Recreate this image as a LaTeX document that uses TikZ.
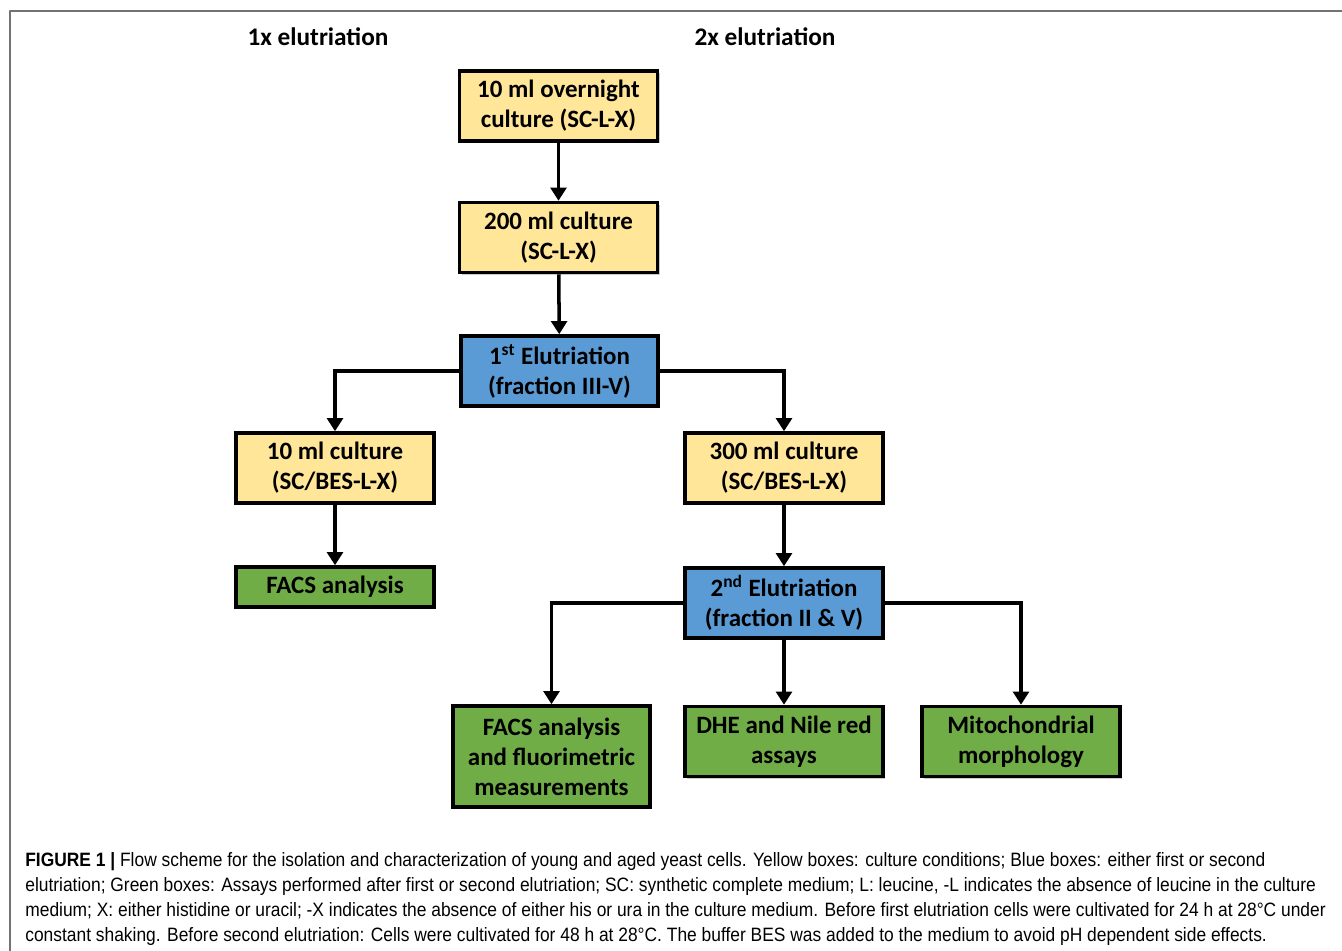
\documentclass[tikz,border=0pt]{standalone}
\usepackage{fontspec}
\setmainfont{Carlito}
\newfontfamily\capfont[FakeStretch=0.90]{Liberation Sans}
\usetikzlibrary{arrows.meta,shadows}
\definecolor{cultureyellow}{HTML}{FFE699}
\definecolor{elutblue}{HTML}{5B9BD5}
\definecolor{assaygreen}{HTML}{70AD47}

\begin{document}
\begin{tikzpicture}[line cap=round,line join=round,>={Triangle[length=7.5pt,width=9pt]},
  every node/.style={inner sep=1pt},
  flowbox/.style={draw=black,line width=2pt,line cap=butt,line join=miter,minimum width=3.96cm,minimum height=1.40cm,align=center,font=\fontsize{14.2}{17}\selectfont\bfseries,drop shadow={shadow xshift=1.2pt,shadow yshift=-1.2pt,opacity=0.35,fill=black!60}},
  culturebox/.style={flowbox,fill=cultureyellow},
  elutbox/.style={flowbox,fill=elutblue},
  assaybox/.style={flowbox,fill=assaygreen},
  flowarrow/.style={->,line width=2pt,line cap=butt,line join=miter},
  capline/.style={anchor=base west,inner sep=0pt,font=\capfont\fontsize{11}{13}\selectfont}]
  \useasboundingbox (0,0) rectangle (26.84,-19.02);
  \draw[line width=1pt,black!55] (0.2,-19.02) -- (0.2,-0.22) -- (26.84,-0.22);
  % column headers
  \node[font=\fontsize{14.4}{17}\selectfont\bfseries] (hdrone) at (6.36,-0.74) {1x elutriation};
  \node[font=\fontsize{14.4}{17}\selectfont\bfseries] (hdrtwo) at (15.30,-0.74) {2x elutriation};
  % boxes
  \node[culturebox] (overnight) at (11.17,-2.12) {10 ml overnight\\culture (SC-L-X)};
  \node[culturebox] (twohundred) at (11.17,-4.75) {200 ml culture\\(SC-L-X)};
  \node[elutbox,minimum width=3.94cm] (elutone) at (11.19,-7.42) {1\textsuperscript{st} Elutriation\\(fraction III-V)};
  \node[culturebox] (tenml) at (6.70,-9.36) {10 ml culture\\(SC/BES-L-X)};
  \node[culturebox] (threehundred) at (15.68,-9.36) {300 ml culture\\(SC/BES-L-X)};
  \node[assaybox,minimum height=0.80cm] (facsone) at (6.70,-11.74) {FACS analysis};
  \node[elutbox] (eluttwo) at (15.68,-12.06) {2\textsuperscript{nd} Elutriation\\(fraction II \& V)};
  \node[assaybox,minimum width=3.94cm,minimum height=2.02cm] (facstwo) at (11.03,-15.13) {FACS analysis\\and fluorimetric\\measurements};
  \node[assaybox] (dhe) at (15.68,-14.83) {DHE and Nile red\\assays};
  \node[assaybox] (mito) at (20.42,-14.83) {Mitochondrial\\morphology};
  % connectors
  \draw[flowarrow] (overnight) -- (twohundred);
  \draw[flowarrow] (twohundred) -- (elutone);
  \draw[flowarrow] (elutone.west) -| (tenml.north);
  \draw[flowarrow] (elutone.east) -| (threehundred.north);
  \draw[flowarrow] (tenml) -- (facsone);
  \draw[flowarrow] (threehundred) -- (eluttwo);
  \draw[flowarrow] (eluttwo.west) -| (facstwo.north);
  \draw[flowarrow] (eluttwo) -- (dhe);
  \draw[flowarrow] (eluttwo.east) -| (mito.north);
  % caption
  \node[capline] (capa) at (0.50,-17.32) {\textbf{FIGURE 1 |} Flow scheme for the isolation and characterization of young and aged yeast cells. Yellow boxes: culture conditions; Blue boxes: either first or second};
  \node[capline] (capb) at (0.50,-17.82) {elutriation; Green boxes: Assays performed after first or second elutriation; SC: synthetic complete medium; L: leucine, -L indicates the absence of leucine in the culture};
  \node[capline] (capc) at (0.50,-18.32) {medium; X: either histidine or uracil; -X indicates the absence of either his or ura in the culture medium. Before first elutriation cells were cultivated for 24 h at 28\textdegree C under};
  \node[capline] (capd) at (0.50,-18.82) {constant shaking. Before second elutriation: Cells were cultivated for 48 h at 28\textdegree C. The buffer BES was added to the medium to avoid pH dependent side effects.};
\end{tikzpicture}
\end{document}
